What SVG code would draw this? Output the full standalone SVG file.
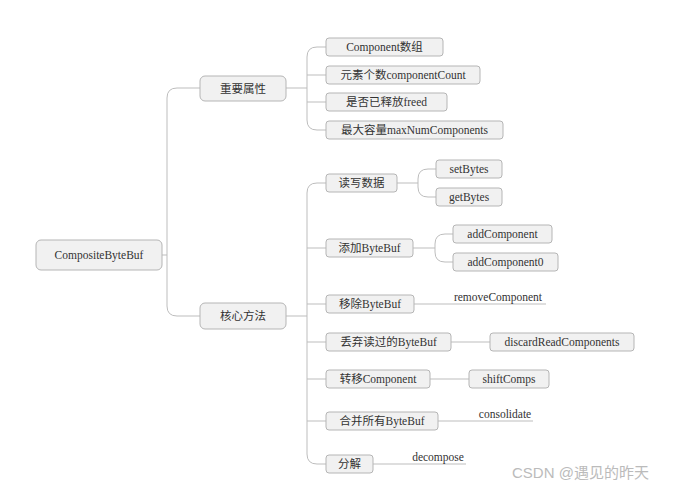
<svg xmlns="http://www.w3.org/2000/svg" width="700" height="494" viewBox="0 0 700 494">
<style>
.b{fill:#f1f1f1;stroke:#b5b5b5;stroke-width:1}
.t{font-family:"Liberation Serif","Noto Sans CJK SC",serif;font-size:11.5px;fill:#333;text-anchor:middle;dominant-baseline:central}
.c{fill:none;stroke:#bdbdbd;stroke-width:1}
</style>
<rect width="700" height="494" fill="#fff"/>
<g id="connectors">
<path class="c" d="M162 255H167M167 255V98Q167 88 177 88H200M167 255V306Q167 316 177 316H200"/>
<path class="c" d="M286 88H307M307 57Q307 47 317 47H326M307 88V120Q307 130 317 130H326M307 57V88M307 75H326M307 102H326"/>
<path class="c" d="M286 316H307M307 193Q307 183 317 183H326M307 193V454Q307 464 317 464H326M307 248H326M307 304H326M307 342H326M307 379H326M307 421H326"/>
<path class="c" d="M397 183H418M418 179Q418 169 428 169H436M418 179V187Q418 197 428 197H436"/>
<path class="c" d="M413 248H435M435 244Q435 234 445 234H453M435 244V252Q435 262 445 262H453"/>
<path class="c" d="M414 304H546M451 342H490M430 379H469M438 421H533M373 464H466"/>
</g>
<g id="root"><rect class="b" x="36" y="240" width="126" height="30" rx="5"/><text class="t" x="99" y="255">CompositeByteBuf</text></g>
<g id="n1"><rect class="b" x="200" y="76" width="86" height="25" rx="5"/><text class="t" x="243" y="88.5">重要属性</text></g>
<g id="n2"><rect class="b" x="200" y="303" width="86" height="26" rx="5"/><text class="t" x="243" y="316">核心方法</text></g>
<g id="a1"><rect class="b" x="326" y="38" width="117" height="18" rx="3"/><text class="t" x="384.5" y="47">Component数组</text></g>
<g id="a2"><rect class="b" x="326" y="66" width="154" height="18" rx="3"/><text class="t" x="403" y="75">元素个数componentCount</text></g>
<g id="a3"><rect class="b" x="326" y="93" width="121" height="18" rx="3"/><text class="t" x="386.5" y="102">是否已释放freed</text></g>
<g id="a4"><rect class="b" x="326" y="121" width="177" height="18" rx="3"/><text class="t" x="414.5" y="130">最大容量maxNumComponents</text></g>
<g id="m1"><rect class="b" x="326" y="174" width="71" height="18" rx="3"/><text class="t" x="361.5" y="183">读写数据</text></g>
<g id="m1a"><rect class="b" x="436" y="160" width="66" height="18" rx="3"/><text class="t" x="469" y="169">setBytes</text></g>
<g id="m1b"><rect class="b" x="436" y="188" width="66" height="18" rx="3"/><text class="t" x="469" y="197">getBytes</text></g>
<g id="m2"><rect class="b" x="326" y="239" width="87" height="18" rx="3"/><text class="t" x="369.5" y="248">添加ByteBuf</text></g>
<g id="m2a"><rect class="b" x="453" y="225" width="99" height="18" rx="3"/><text class="t" x="502.5" y="234">addComponent</text></g>
<g id="m2b"><rect class="b" x="453" y="253" width="105" height="18" rx="3"/><text class="t" x="505.5" y="262">addComponent0</text></g>
<g id="m3"><rect class="b" x="326" y="295" width="88" height="18" rx="3"/><text class="t" x="370" y="304">移除ByteBuf</text><text class="t" x="498" y="297">removeComponent</text></g>
<g id="m4"><rect class="b" x="326" y="333" width="125" height="18" rx="3"/><text class="t" x="388.5" y="342">丢弃读过的ByteBuf</text></g>
<g id="m4a"><rect class="b" x="490" y="333" width="144" height="18" rx="3"/><text class="t" x="562" y="342">discardReadComponents</text></g>
<g id="m5"><rect class="b" x="326" y="370" width="104" height="18" rx="3"/><text class="t" x="378" y="379">转移Component</text></g>
<g id="m5a"><rect class="b" x="469" y="370" width="80" height="18" rx="3"/><text class="t" x="509" y="379">shiftComps</text></g>
<g id="m6"><rect class="b" x="326" y="412" width="112" height="18" rx="3"/><text class="t" x="382" y="421">合并所有ByteBuf</text><text class="t" x="505" y="414">consolidate</text></g>
<g id="m7"><rect class="b" x="326" y="455" width="47" height="18" rx="3"/><text class="t" x="349.5" y="464">分解</text><text class="t" x="438" y="457">decompose</text></g>
<text x="512" y="478" style="font-family:'Liberation Sans','Noto Sans CJK SC',sans-serif;font-size:15px;fill:#bbb">CSDN @遇见的昨天</text>
</svg>
